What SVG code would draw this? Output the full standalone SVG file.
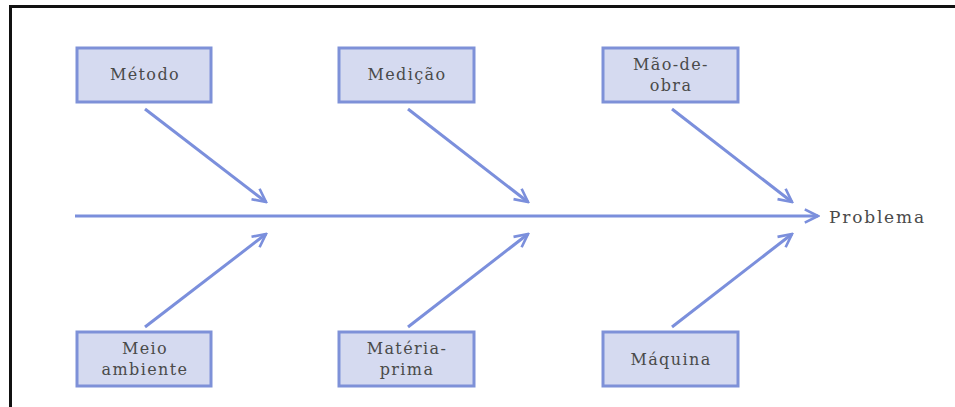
<svg xmlns="http://www.w3.org/2000/svg" width="955" height="407" viewBox="0 0 955 407">
<style>
.box{fill:#d5daf0;stroke:#7e91d8;stroke-width:3}
.lbl{font-family:"DejaVu Serif","Liberation Serif",serif;font-size:16px;fill:#4a4a4a;text-anchor:middle;letter-spacing:1.4px}
.con{stroke:#7b8fdc;stroke-width:3;fill:none;marker-end:url(#ah)}
</style>
<defs>
<marker id="ah" viewBox="0 0 10 10" refX="9" refY="5" markerWidth="5.5" markerHeight="5.5" orient="auto" markerUnits="strokeWidth">
<path d="M1,1 L9,5 L1,9" fill="none" stroke="#7b8fdc" stroke-width="1.6"/>
</marker>
</defs>
<rect width="955" height="407" fill="#fff"/>
<path d="M10.5,407 V6.5 H955" fill="none" stroke="#111" stroke-width="3"/>
<g id="connectors">
<line class="con" x1="75" y1="216" x2="818" y2="216"/>
<line class="con" x1="145" y1="109" x2="266" y2="202"/>
<line class="con" x1="408" y1="109" x2="528" y2="202"/>
<line class="con" x1="672" y1="109" x2="792" y2="202"/>
<line class="con" x1="145" y1="327" x2="266" y2="234"/>
<line class="con" x1="408" y1="327" x2="528" y2="234"/>
<line class="con" x1="672" y1="327" x2="792" y2="234"/>
</g>
<g id="metodo"><rect class="box" x="77" y="48" width="134" height="54"/><text class="lbl" x="145" y="80">Método</text></g>
<g id="medicao"><rect class="box" x="339" y="48" width="135" height="54"/><text class="lbl" x="407" y="80">Medição</text></g>
<g id="maodeobra"><rect class="box" x="603" y="48" width="135" height="54"/><text class="lbl" x="671" y="70">Mão-de-</text><text class="lbl" x="671" y="91">obra</text></g>
<g id="meioambiente"><rect class="box" x="77" y="332" width="134" height="54"/><text class="lbl" x="145" y="354">Meio</text><text class="lbl" x="145" y="375">ambiente</text></g>
<g id="materiaprima"><rect class="box" x="339" y="332" width="135" height="54"/><text class="lbl" x="407" y="354">Matéria-</text><text class="lbl" x="407" y="375">prima</text></g>
<g id="maquina"><rect class="box" x="603" y="332" width="135" height="54"/><text class="lbl" x="671" y="365">Máquina</text></g>
<g id="problema"><text class="lbl" x="829" y="223" style="text-anchor:start;font-size:17px;letter-spacing:1.8px">Problema</text></g>
</svg>
